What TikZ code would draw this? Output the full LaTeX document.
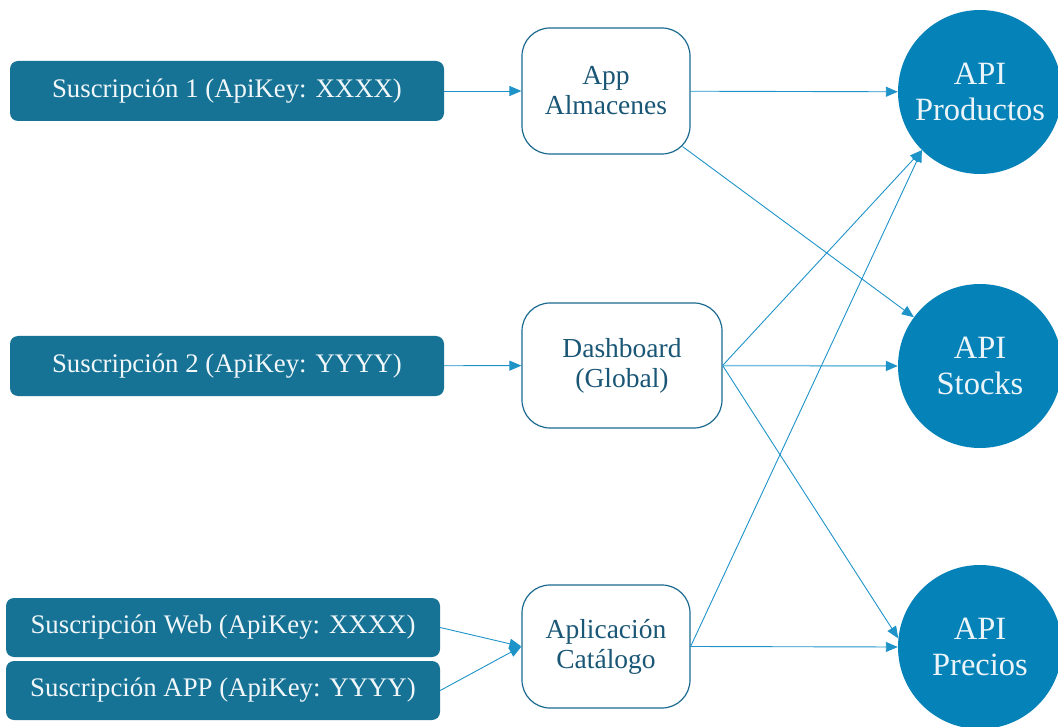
\documentclass[tikz,border=0pt]{standalone}
\usepackage{fontspec}
\setmainfont{Liberation Serif}
\usepackage{xcolor}
\usetikzlibrary{arrows.meta}
\definecolor{subfill}{RGB}{22,115,150}
\definecolor{apifill}{RGB}{5,130,184}
\definecolor{appline}{RGB}{26,106,144}
\definecolor{apptext}{RGB}{26,86,118}
\definecolor{conn}{RGB}{30,147,200}

\begin{document}
\begin{tikzpicture}[x=1pt, y=-1pt,
  s/.style={fill=subfill, text=white!94!subfill, rounded corners=8pt, minimum width=434pt,
    minimum height=60pt, font=\fontsize{26.8}{30}\selectfont},
  a/.style={draw=appline, line width=1.2pt, fill=white, text=apptext, rounded corners=28pt,
    align=center, font=\fontsize{27.5}{30}\selectfont},
  api/.style={circle, fill=apifill, text=white!92!apifill, minimum size=164pt, inner sep=0pt,
    align=center, font=\fontsize{32.5}{36}\selectfont},
  arr/.style={draw=conn, line width=0.9pt, -{Triangle[length=12pt,width=10pt,color=conn]}}]
\useasboundingbox (0,0) rectangle (1058,727);
% suscripciones
\node[s] (sub1) at (227,91) {Suscripción 1 (ApiKey: XXXX)};
\node[s] (sub2) at (227,366) {Suscripción 2 (ApiKey: YYYY)};
\node[s, minimum height=59pt] (subweb) at (223,627.5) {Suscripción Web (ApiKey: XXXX)};
\node[s, minimum height=59pt] (subapp) at (223,690.5) {Suscripción APP (ApiKey: YYYY)};
% aplicaciones
\node[a, minimum width=168pt, minimum height=126pt] (alm) at (606,91) {App\\Almacenes};
\node[a, minimum width=200pt, minimum height=125pt] (dash) at (622,365.5) {Dashboard\\(Global)};
\node[a, minimum width=168pt, minimum height=123pt] (cat) at (606,646.5) {Aplicación\\Catálogo};
% APIs
\node[api] (prod) at (980,92) {API\\Productos};
\node[api] (stock) at (980,366) {API\\Stocks};
\node[api] (prec) at (980,647) {API\\Precios};

\draw[arr] (sub1) -- (alm);
\draw[arr] (sub2) -- (dash);
\draw[arr] (subweb.east) -- (cat.west);
\draw[arr] (subapp.east) -- (cat.west);
\draw[arr] (alm) -- (prod);
\draw[arr] ([shift={(-8pt,8pt)}]alm.south east) -- (stock);
\draw[arr] (dash.east) -- (prod.-135);
\draw[arr, draw=conn!60, line width=1.5pt] (dash.east) -- (stock.west);
\draw[arr] (dash.east) -- (prec.174);
\draw[arr] (cat.east) -- (prod.-135);
\draw[arr] (cat.east) -- (prec.west);
\end{tikzpicture}
\end{document}
